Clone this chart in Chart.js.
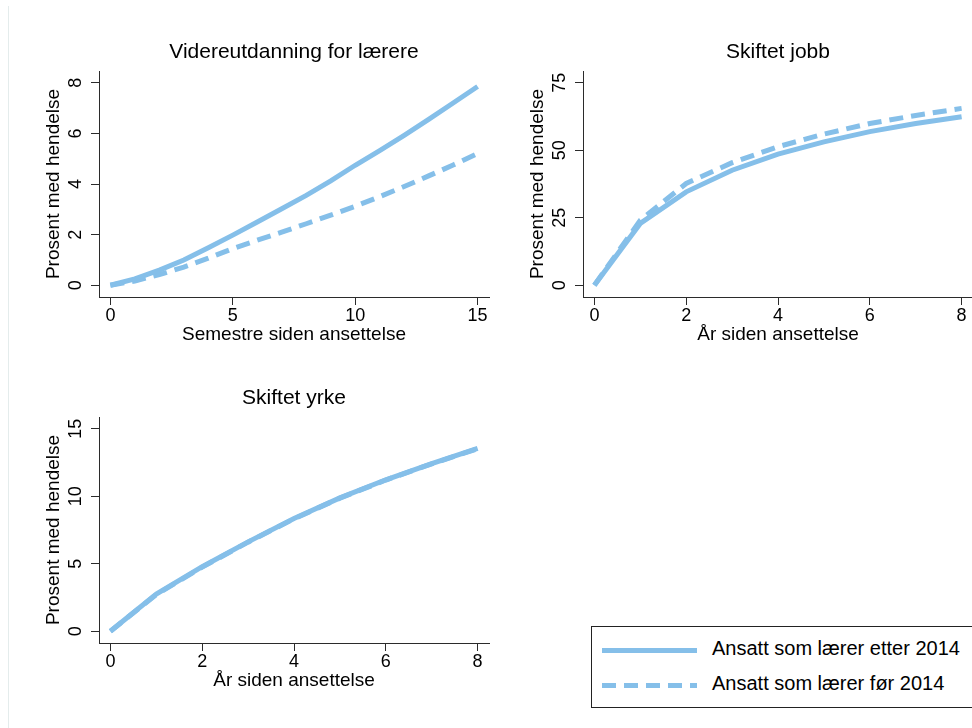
<!DOCTYPE html>
<html lang="no">
<head>
<meta charset="utf-8">
<title>Prosent med hendelse etter ansettelse</title>
<script src="https://cdn.jsdelivr.net/npm/chart.js@4.4.1/dist/chart.umd.min.js"></script>
<style>
  html, body { margin: 0; padding: 0; background: #fff; }
  body { width: 972px; height: 728px; overflow: hidden; position: relative; font-family: "Liberation Sans", Arial, sans-serif; }
  canvas { position: absolute; }
  #edge { position: absolute; left: 8px; top: 6px; width: 1px; height: 722px; background: #e4ecec; }
  .legend { position: absolute; left: 591px; top: 626px; width: 420px; height: 82px; border: 1px solid #222; box-sizing: border-box; }
  .key { position: absolute; left: 10px; width: 95px; height: 5px; }
  .key.solid { top: 20.5px; background: #85bfe9; }
  .key.dash { top: 55.5px; background: repeating-linear-gradient(to right, #85bfe9 0 14px, transparent 14px 22px); }
  .label { position: absolute; left: 120px; font-size: 20px; line-height: 24px; color: #000; white-space: nowrap; }
</style>
</head>
<body>
<div id="edge"></div>
<canvas id="videre" width="500" height="350" style="left:0;top:0"></canvas>
<canvas id="jobb" width="500" height="350" style="left:484px;top:0"></canvas>
<canvas id="yrke" width="500" height="350" style="left:0;top:346px"></canvas>
<div class="legend">
  <div class="key solid"></div>
  <div class="label" style="top:9.3px">Ansatt som lærer etter 2014</div>
  <div class="key dash"></div>
  <div class="label" style="top:44.1px">Ansatt som lærer før 2014</div>
</div>
<script>
// Data
const semestre = [0, 1, 2, 3, 4, 5, 6, 7, 8, 9, 10, 11, 12, 13, 14, 15];
const videreEtter = [0, 0.25, 0.6, 1.0, 1.48, 1.98, 2.5, 3.02, 3.55, 4.12, 4.74, 5.32, 5.92, 6.55, 7.2, 7.85];
const videreFoer = [0, 0.17, 0.42, 0.72, 1.07, 1.45, 1.78, 2.1, 2.43, 2.77, 3.12, 3.5, 3.9, 4.32, 4.75, 5.2];
const videreTicksX = [0, 5, 10, 15];
const videreTicksY = [0, 2, 4, 6, 8];

const aar = [0, 1, 2, 3, 4, 5, 6, 7, 8];
const aarTicks = [0, 2, 4, 6, 8];

const jobbEtter = [0, 22.9, 34.6, 42.6, 48.6, 53.1, 56.9, 59.9, 62.4];
const jobbFoer = [0, 24.1, 37.7, 45.4, 51.3, 56.0, 59.9, 62.9, 65.5];
const jobbTicksY = [0, 25, 50, 75];

const yrkeEtter = [0, 2.75, 4.78, 6.62, 8.35, 9.88, 11.22, 12.42, 13.55];
const yrkeFoer = [0, 2.72, 4.75, 6.6, 8.33, 9.86, 11.2, 12.4, 13.52];
const yrkeTicksY = [0, 5, 10, 15];

const lineColor = '#85bfe9';
const axisColor = '#2b2b2b';

Chart.defaults.font.family = '"Liberation Sans", Arial, sans-serif';
Chart.defaults.color = '#000';

// y tick labels are rotated (read bottom to top), so draw them here
const yLabels = {
    id: 'yLabels',
    afterDraw(chart) {
        const { ctx, chartArea, scales: { y } } = chart;
        ctx.save();
        ctx.font = '18px "Liberation Sans", Arial, sans-serif';
        ctx.fillStyle = '#000';
        ctx.textAlign = 'center';
        ctx.textBaseline = 'alphabetic';
        y.ticks.forEach(t => {
            ctx.save();
            ctx.translate(chartArea.left - 18.3, y.getPixelForValue(t.value));
            ctx.rotate(-Math.PI / 2);
            ctx.fillText(String(t.value), 0, 0);
            ctx.restore();
        });
        ctx.restore();
    }
};

function makePanel(id, title, xTitle, xs, etter, foer, xTicks, yTicks) {
    const xSpan = xTicks[xTicks.length - 1] - xTicks[0];
    const ySpan = yTicks[yTicks.length - 1] - yTicks[0];
    const points = arr => arr.map((v, i) => ({ x: xs[i], y: v }));

    return new Chart(document.getElementById(id), {
        type: 'line',
        data: {
            datasets: [{
                label: 'Ansatt som lærer etter 2014',
                data: points(etter),
                borderColor: lineColor,
                borderWidth: 5,
                pointRadius: 0,
                tension: 0
            }, {
                label: 'Ansatt som lærer før 2014',
                data: points(foer),
                borderColor: lineColor,
                borderWidth: 5,
                borderDash: [14, 8],
                pointRadius: 0,
                tension: 0
            }]
        },
        options: {
            responsive: false,
            animation: false,
            devicePixelRatio: 1,
            layout: { padding: { left: 0, right: 11, top: 0, bottom: 0 } },
            plugins: {
                legend: { display: false },
                tooltip: { enabled: false },
                title: {
                    display: true,
                    text: title,
                    fullSize: false,
                    color: '#000',
                    font: { size: 21, weight: 'normal' },
                    padding: { top: 39.4, bottom: 6.4 }
                }
            },
            scales: {
                x: {
                    type: 'linear',
                    min: xTicks[0] - 0.031 * xSpan,
                    max: xTicks[xTicks.length - 1] + 0.031 * xSpan,
                    afterBuildTicks: s => { s.ticks = xTicks.map(v => ({ value: v })); },
                    afterFit: s => { s.height = 53; },
                    grid: { drawOnChartArea: false, tickLength: 8, color: axisColor },
                    border: { color: axisColor, width: 1 },
                    ticks: { padding: 0, color: '#000', font: { size: 18 }, maxRotation: 0, autoSkip: false },
                    title: { display: true, text: xTitle, color: '#000', font: { size: 19 }, padding: { top: 0, bottom: 3.7 } }
                },
                y: {
                    type: 'linear',
                    min: yTicks[0] - 0.058 * ySpan,
                    max: yTicks[yTicks.length - 1] + 0.058 * ySpan,
                    afterBuildTicks: s => { s.ticks = yTicks.map(v => ({ value: v })); },
                    afterFit: s => { s.width = 99; },
                    grid: { drawOnChartArea: false, tickLength: 8, color: axisColor },
                    border: { color: axisColor, width: 1 },
                    ticks: { display: false },
                    title: { display: true, text: 'Prosent med hendelse', color: '#000', font: { size: 19 }, padding: { top: 42.7, bottom: 0 } }
                }
            }
        },
        plugins: [yLabels]
    });
}

makePanel('videre', 'Videreutdanning for lærere', 'Semestre siden ansettelse',
    semestre, videreEtter, videreFoer, videreTicksX, videreTicksY);
makePanel('jobb', 'Skiftet jobb', 'År siden ansettelse',
    aar, jobbEtter, jobbFoer, aarTicks, jobbTicksY);
makePanel('yrke', 'Skiftet yrke', 'År siden ansettelse',
    aar, yrkeEtter, yrkeFoer, aarTicks, yrkeTicksY);
</script>
</body>
</html>
